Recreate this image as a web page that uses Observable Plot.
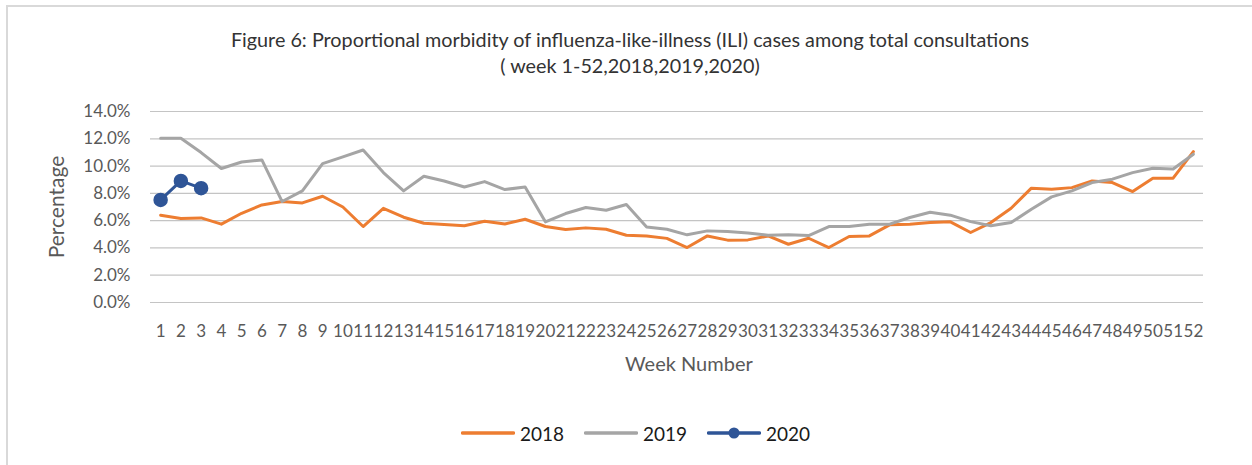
<!DOCTYPE html>
<html>
<head>
<meta charset="utf-8">
<script src="https://cdn.jsdelivr.net/npm/d3@7"></script>
<script src="https://cdn.jsdelivr.net/npm/@observablehq/plot@0.6"></script>
<style>
  html, body { margin: 0; padding: 0; background: #fff; overflow: hidden; }
  body { width: 1252px; height: 465px; position: relative; font-family: Lato, "Open Sans", sans-serif; }
  #frame { position: absolute; left: 6px; top: 5px; width: 1300px; height: 500px;
           border-left: 2px solid #d9d9d9; border-top: 2px solid #d9d9d9; }
  #title { position: absolute; left: 0; width: 1260px; top: 26px; text-align: center;
           font-size: 19.8px; line-height: 26px; color: #333; }
  #chart { position: absolute; left: 0; top: 0; }
  #legend { position: absolute; top: 420px; left: 0; width: 1252px; height: 26px; }
  .item { position: absolute; top: 0; height: 26px; display: flex; align-items: center;
          font-size: 19px; color: #1a1a1a; }
  .item svg { margin-right: 5px; }
</style>
</head>
<body>
<div id="frame"></div>
<div id="title">Figure 6: Proportional morbidity of influenza-like-illness (ILI) cases among total consultations<br>( week 1-52,2018,2019,2020)</div>
<div id="chart"></div>
<div id="legend"></div>
<script>
const weeks = [1,2,3,4,5,6,7,8,9,10,11,12,13,14,15,16,17,18,19,20,21,22,23,24,25,26,
               27,28,29,30,31,32,33,34,35,36,37,38,39,40,41,42,43,44,45,46,47,48,49,50,51,52];
const ili2018 = [6.4,6.15,6.2,5.74,6.54,7.15,7.4,7.3,7.79,7.0,5.57,6.9,6.25,
                 5.81,5.71,5.62,5.96,5.76,6.1,5.57,5.35,5.47,5.37,4.93,4.88,4.7,
                 4.03,4.88,4.57,4.59,4.88,4.27,4.71,4.03,4.84,4.88,5.69,5.74,5.87,
                 5.91,5.13,5.86,6.91,8.38,8.3,8.42,8.91,8.79,8.13,9.11,9.11,11.06];
const ili2019 = [12.04,12.04,10.99,9.82,10.3,10.45,7.4,8.18,10.18,10.67,11.18,9.52,8.18,
                 9.26,8.91,8.47,8.86,8.28,8.47,5.91,6.52,6.96,6.76,7.18,5.54,5.37,
                 4.96,5.25,5.2,5.1,4.93,4.96,4.91,5.57,5.57,5.74,5.74,6.23,6.62,
                 6.4,5.93,5.62,5.86,6.84,7.74,8.18,8.79,9.04,9.52,9.84,9.79,10.87];
const ili2020 = [7.52,8.91,8.38];
const yTicks = [0,2,4,6,8,10,12,14];
const seriesNames = ["2018","2019","2020"];
const seriesColors = ["#ED7D31","#A5A5A5","#2F5597"];

const d2018 = weeks.map((w,i) => ({week: w, value: ili2018[i]}));
const d2019 = weeks.map((w,i) => ({week: w, value: ili2019[i]}));
const d2020 = ili2020.map((v,i) => ({week: weeks[i], value: v}));

const chart = Plot.plot({
  width: 1252,
  height: 400,
  marginLeft: 150,
  marginRight: 49,
  marginTop: 111,
  marginBottom: 98,
  style: {fontFamily: "Lato, 'Open Sans', sans-serif", background: "transparent", overflow: "visible"},
  x: {type: "point", domain: weeks, padding: 0.5, round: false},
  y: {domain: [0, 14]},
  marks: [
    Plot.ruleY(yTicks, {stroke: "#c4c4c4", strokeWidth: 1.2}),
    Plot.axisY({ticks: yTicks, tickSize: 0, tickPadding: 20, tickFormat: d => d.toFixed(1) + "%",
                fontSize: 17, fill: "#595959", label: null}),
    Plot.axisX({tickSize: 0, tickPadding: 22, fontSize: 17, fill: "#595959", label: null}),
    Plot.text(["Percentage"], {frameAnchor: "left", dx: -93, rotate: -90, fontSize: 21, fill: "#595959", textAnchor: "middle"}),
    Plot.text(["Week Number"], {x: weeks[25], y: 0, dx: 22, dy: 62, fontSize: 20, fill: "#595959", textAnchor: "middle"}),
    Plot.line(d2018, {x: "week", y: "value", stroke: seriesColors[0], strokeWidth: 3, strokeLinejoin: "round", strokeLinecap: "round"}),
    Plot.line(d2019, {x: "week", y: "value", stroke: seriesColors[1], strokeWidth: 3, strokeLinejoin: "round", strokeLinecap: "round"}),
    Plot.line(d2020, {x: "week", y: "value", stroke: seriesColors[2], strokeWidth: 3, strokeLinejoin: "round"}),
    Plot.dot(d2020, {x: "week", y: "value", r: 6.5, fill: seriesColors[2], stroke: seriesColors[2]})
  ]
});
document.getElementById("chart").appendChild(chart);

// legend
const legendLeft = [461, 584, 707];
const legend = document.getElementById("legend");
seriesNames.forEach((name, i) => {
  const item = document.createElement("div");
  item.className = "item";
  item.style.left = legendLeft[i] + "px";
  const dot = i === 2 ? `<circle cx="27" cy="6" r="5.5" fill="${seriesColors[i]}"/>` : "";
  item.innerHTML = `<svg width="54" height="12"><line x1="1.5" x2="52.5" y1="6" y2="6" stroke="${seriesColors[i]}" stroke-width="3.5" stroke-linecap="round"/>${dot}</svg><span>${name}</span>`;
  legend.appendChild(item);
});
</script>
</body>
</html>
